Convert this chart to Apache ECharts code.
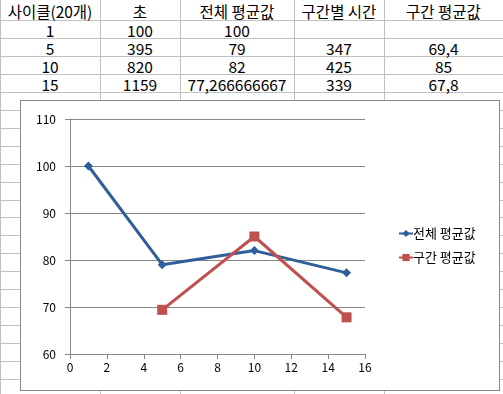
<!DOCTYPE html>
<html><head><meta charset="utf-8">
<script src="https://cdn.jsdelivr.net/npm/echarts@6/dist/echarts.min.js"></script>
<style>
html,body{margin:0;padding:0;background:#fff;width:503px;height:394px;overflow:hidden;position:relative;font-family:"Noto Sans CJK KR","Noto Sans",sans-serif;}
.h{position:absolute;left:0;width:503px;height:1px;background:#c0c0c0;}
.v{position:absolute;top:0;width:1px;height:394px;background:#c0c0c0;}
.c{position:absolute;height:18px;line-height:18px;text-align:center;font-size:15.5px;color:#000;white-space:nowrap;}
#chart{position:absolute;left:20px;top:100px;width:480px;height:291px;border:1px solid #868686;box-sizing:border-box;background:#fff;}
</style></head>
<body>
<div id="sheet"></div>
<div id="chart"></div>
<script>
// ---- data ----
const headers = ['사이클(20개)', '초', '전체 평균값', '구간별 시간', '구간 평균값'];
const cycles = [1, 5, 10, 15];
const seconds = [100, 395, 820, 1159];
const overallAvg = [100, 79, 82, 77.266666667];
const sectionTime = [null, 347, 425, 339];
const sectionAvg = [null, 69.4, 85, 67.8];
const seriesNames = ['전체 평균값', '구간 평균값'];
const xTicks = [0, 16, 2];
const yTicks = [60, 110, 10];

// ---- spreadsheet background ----
const colEdges = [0, 100, 180, 294, 384, 503];
const sheet = document.getElementById('sheet');
for (let k = 0; k < 21; k++) {
  const d = document.createElement('div'); d.className = 'h';
  d.style.top = Math.round(19.7 + 17.98 * k) + 'px'; sheet.appendChild(d);
}
colEdges.slice(0, 5).forEach(x => {
  const d = document.createElement('div'); d.className = 'v';
  d.style.left = x + 'px'; sheet.appendChild(d);
});
const fmt = v => (v === null || v === undefined) ? '' : String(v).replace('.', ',');
const rows = [headers].concat(cycles.map((c, i) => [fmt(c), fmt(seconds[i]), fmt(overallAvg[i]), fmt(sectionTime[i]), fmt(sectionAvg[i])]));
rows.forEach((r, ri) => {
  r.forEach((t, ci) => {
    const d = document.createElement('div'); d.className = 'c';
    d.style.left = colEdges[ci] + 'px';
    d.style.width = (colEdges[ci + 1] - colEdges[ci]) + 'px';
    d.style.top = (ri === 0 ? 2 : Math.round(20.5 + 18 * (ri - 1))) + 'px';
    d.textContent = t; sheet.appendChild(d);
  });
});

// ---- chart ----
const chart = echarts.init(document.getElementById('chart'));
const pair = (xs, ys) => xs.map((x, i) => [x, ys[i]]).filter(p => p[1] !== null);
const axisFont = {fontFamily: 'Noto Sans CJK KR', fontSize: 12, color: '#000'};
chart.setOption({
  animation: false,
  grid: {left: 49, top: 18, right: 134, bottom: 36},
  xAxis: {
    type: 'value', min: xTicks[0], max: xTicks[1], interval: xTicks[2],
    axisLine: {lineStyle: {color: '#868686', width: 1}},
    axisTick: {show: true, length: 5, lineStyle: {color: '#868686'}},
    axisLabel: Object.assign({margin: 7}, axisFont),
    splitLine: {show: false}
  },
  yAxis: {
    type: 'value', min: yTicks[0], max: yTicks[1], interval: yTicks[2],
    axisLine: {show: true, lineStyle: {color: '#868686', width: 1}},
    axisTick: {show: true, length: 5, lineStyle: {color: '#868686'}},
    axisLabel: Object.assign({margin: 14}, axisFont),
    splitLine: {show: true, lineStyle: {color: '#868686', width: 1}}
  },
  legend: {
    orient: 'vertical', left: 372, top: 121,
    itemWidth: 14, itemHeight: 9, itemGap: 11,
    textStyle: {fontFamily: 'Noto Sans CJK KR', fontSize: 13, color: '#000', padding: [0, 0, 0, -5]},
    data: seriesNames
  },
  series: [
    {name: seriesNames[0], type: 'line', data: pair(cycles, overallAvg),
     symbol: 'diamond', symbolSize: 9, showAllSymbol: true,
     lineStyle: {color: '#2f5e9a', width: 3}, itemStyle: {color: '#2f5e9a'}},
    {name: seriesNames[1], type: 'line', data: pair(cycles, sectionAvg),
     symbol: 'rect', symbolSize: 10, showAllSymbol: true,
     lineStyle: {color: '#c0504d', width: 3}, itemStyle: {color: '#c0504d'}}
  ]
});
</script>
</body></html>
